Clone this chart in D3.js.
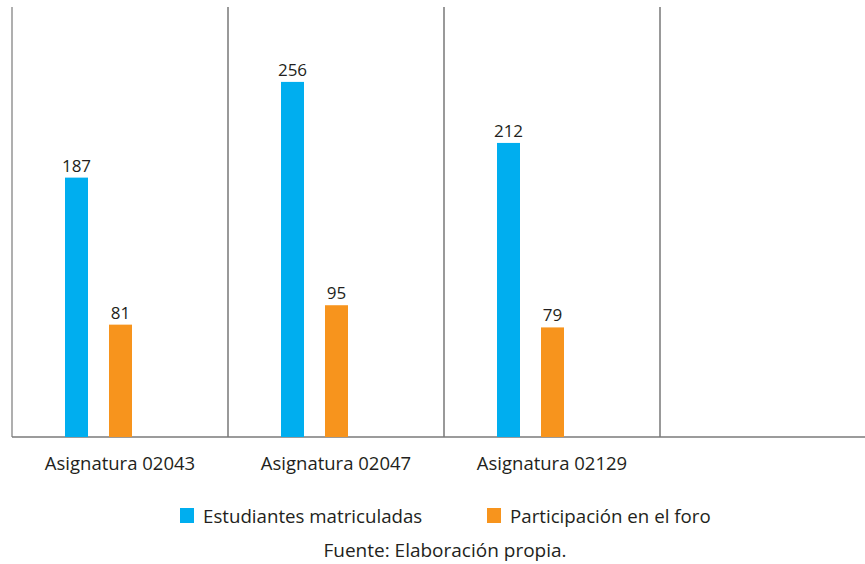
<!DOCTYPE html>
<html>
<head>
<meta charset="utf-8">
<script src="https://cdn.jsdelivr.net/npm/d3@7"></script>
<style>
  body { margin: 0; background: #fff; }
  text { font-family: 'Open Sans', sans-serif; fill: #231f20; }
</style>
</head>
<body>
<svg width="865" height="564"></svg>
<script>
var svg = d3.select('svg');

// data
var asignaturas = ['Asignatura 02043', 'Asignatura 02047', 'Asignatura 02129', ''];
var estudiantes = [187, 256, 212];
var participacion = [81, 95, 79];
var seriesNames = ['Estudiantes matriculadas', 'Participación en el foro'];
var seriesColors = ['#00aeef', '#f7941d'];
var fuente = 'Fuente: Elaboración propia.';

// layout
var plotLeft = 12, plotTop = 7, plotBottom = 437;
var bandWidth = 216;

var x = d3.scaleBand()
    .domain(asignaturas.map(function(d, i) { return i; }))
    .range([plotLeft, plotLeft + bandWidth * asignaturas.length])
    .paddingInner(0).paddingOuter(0);

var y = d3.scaleLinear()
    .domain([0, 310])
    .range([plotBottom, plotTop]);

var barWidth = 23;
var offsets = [53, 97];

// vertical lines (left axis + separators)
var sepX = d3.range(asignaturas.length).map(function(i) { return x(i); });
svg.selectAll('.sep')
    .data(sepX)
    .enter()
    .append('line')
    .attr('class', 'sep')
    .attr('x1', function(d) { return d; })
    .attr('x2', function(d) { return d; })
    .attr('y1', plotTop)
    .attr('y2', plotBottom)
    .attr('stroke', function(d, i) { return i == 0 ? '#7a7a7a' : '#555'; })
    .attr('stroke-width', 1.2);

// baseline
svg.append('line')
    .attr('x1', plotLeft)
    .attr('x2', 865)
    .attr('y1', plotBottom)
    .attr('y2', plotBottom)
    .attr('stroke', '#7a7a7a')
    .attr('stroke-width', 1.5);

var series = [estudiantes, participacion];
series.forEach(function(values, s) {
    svg.selectAll('.bar' + s)
        .data(values)
        .enter()
        .append('rect')
        .attr('class', 'bar' + s)
        .attr('x', function(d, i) { return x(i) + offsets[s]; })
        .attr('y', function(d) { return y(d); })
        .attr('width', barWidth)
        .attr('height', function(d) { return y(0) - y(d); })
        .attr('fill', seriesColors[s]);

    svg.selectAll('.val' + s)
        .data(values)
        .enter()
        .append('text')
        .attr('class', 'val' + s)
        .attr('x', function(d, i) { return x(i) + offsets[s] + barWidth / 2; })
        .attr('y', function(d) { return y(d) - 6; })
        .style('text-anchor', 'middle')
        .style('font-size', '17px')
        .text(function(d) { return d; });
});

// category labels
svg.selectAll('.cat')
    .data(asignaturas)
    .enter()
    .append('text')
    .attr('class', 'cat')
    .attr('x', function(d, i) { return x(i) + x.bandwidth() / 2; })
    .attr('y', 470)
    .style('text-anchor', 'middle')
    .style('font-size', '18.5px')
    .text(function(d) { return d; });

// legend
var legendX = [180, 487];
var legendG = svg.selectAll('.legend')
    .data(seriesNames)
    .enter()
    .append('g')
    .attr('class', 'legend')
    .attr('transform', function(d, i) { return 'translate(' + [legendX[i], 508] + ')'; });
legendG.append('rect')
    .attr('width', 14)
    .attr('height', 15)
    .attr('fill', function(d, i) { return seriesColors[i]; });
legendG.append('text')
    .attr('x', 23)
    .attr('y', 15)
    .style('font-size', '18.7px')
    .text(function(d) { return d; });

svg.append('text')
    .attr('x', 445)
    .attr('y', 557)
    .style('text-anchor', 'middle')
    .style('font-size', '19px')
    .text(fuente);
</script>
</body>
</html>
